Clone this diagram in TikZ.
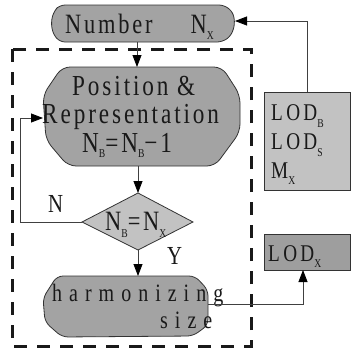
\documentclass[tikz,border=0pt]{standalone}
\usepackage{fontspec}
\usepackage{graphicx}
\setmainfont{Liberation Serif}
\newfontfamily\fpos[FakeStretch=0.8,LetterSpace=10]{Liberation Serif}
\newfontfamily\fwide[FakeStretch=0.8,LetterSpace=28]{Liberation Serif}
\newfontfamily\fnum[FakeStretch=0.8,LetterSpace=10]{Liberation Serif}
\newfontfamily\flod[FakeStretch=0.8,LetterSpace=14]{Liberation Serif}
\usetikzlibrary{arrows.meta}
% lowered small index letter
\newcommand\subx[2][6pt]{\raisebox{-#1}{\fontsize{12}{12}\selectfont #2}}
\begin{document}
\begin{tikzpicture}[x=1pt,y=-1pt,
  txt/.style={inner sep=0pt,anchor=base west,text=black!90},
  darkbox/.style={fill=black!36,draw=black!80,line width=0.8pt,rounded corners=5pt},
  lightbox/.style={fill=black!24,draw=black!80,line width=0.8pt},
  link/.style={draw=black!75,line width=0.8pt},
  arr/.style={link,-{Triangle[length=12pt,width=9pt,color=black]}},
  frame/.style={draw=black!90,line width=3pt,dash pattern=on 13pt off 10pt}]
\useasboundingbox (0,0) rectangle (351,349);

% dashed frame around the loop
\draw[frame] (12,49) rectangle (251,346);

% shapes
\draw[darkbox] (60,5) -- (224,5) -- (233,12) -- (235,24) -- (231,36) -- (222,42)
  -- (60,42) -- (53,34) -- (51,22) -- (54,11) -- cycle;
\draw[darkbox,rounded corners=8pt] (62,67) -- (222,67) -- (240,95) -- (240,132)
  -- (215,166) -- (68,166) -- (46,140) -- (43,95) -- cycle;
\draw[lightbox] (138,193) -- (193,222) -- (138,250) -- (82,222) -- cycle;
\draw[darkbox,rounded corners=6pt] (57,276) -- (195,276) -- (208,290) -- (208,325)
  -- (193,336) -- (62,337) -- (45,322) -- (43,298) -- cycle;
\draw[lightbox] (264,92) rectangle (350,190);
\draw[lightbox,fill=black!38] (264,234) rectangle (350,270);

% anchor points on the shapes
\coordinate (num-s) at (137,42);
\coordinate (num-e) at (235,21);
\coordinate (pos-n) at (137,67);
\coordinate (pos-s) at (138,166);
\coordinate (pos-w) at (43,118);
\coordinate (dia-n) at (138,193);
\coordinate (dia-s) at (138,250);
\coordinate (dia-w) at (82,222);
\coordinate (hz-n) at (138,276);
\coordinate (hz-e) at (208,304);
\coordinate (lod-n) at (307,92);
\coordinate (lodx-s) at (303,270);

% texts
\node[txt] (num) at (65,33) {\fontsize{28}{28}\fnum Number\hspace{38pt}N\subx[6pt]{X}};
\node[txt] (pos1) at (72,95) {\fontsize{29}{29}\fpos Position \&};
\node[txt] (pos2) at (42,123) {\fontsize{29}{29}\fpos Representation};
\node[txt] (pos3) at (82,152) {\fontsize{29}{29}\fpos N\subx[5pt]{B}=N\subx[5pt]{B}−1};
\node[txt] (dia) at (105,230) {\fontsize{28}{28}\fpos N\subx[7pt]{B}=N\subx[7pt]{X}};
\node[txt] (hz1) at (52,301) {\fontsize{25}{25}\fwide harmonizing};
\node[txt] (hz2) at (160,328) {\fontsize{25}{25}\fwide size};
\node[txt] (lod1) at (271,120) {\fontsize{24}{24}\flod LOD\subx[7pt]{B}};
\node[txt] (lod2) at (271,149) {\fontsize{24}{24}\flod LOD\subx[7pt]{S}};
\node[txt] (lod3) at (271,178) {\fontsize{24}{24}\flod M\subx[6pt]{X}};
\node[txt] (lodx) at (268,261) {\fontsize{24}{24}\flod LOD\subx[6pt]{X}};
\node[txt] (lblN) at (48,212) {\fontsize{26}{26}\fpos N};
\node[txt] (lblY) at (167,264) {\fontsize{26}{26}\fpos Y};

% connectors
\draw[arr] (num-s) -- (pos-n);
\draw[arr] (pos-s) -- (dia-n);
\draw[arr] (dia-w) -- (20,222) -- (20,118) -- (pos-w);
\draw[arr] (dia-s) -- (hz-n);
\draw[arr] (hz-e) -- (303,304) -- (lodx-s);
\draw[arr] (lod-n) -- (307,21) -- (num-e);
\end{tikzpicture}
\end{document}
